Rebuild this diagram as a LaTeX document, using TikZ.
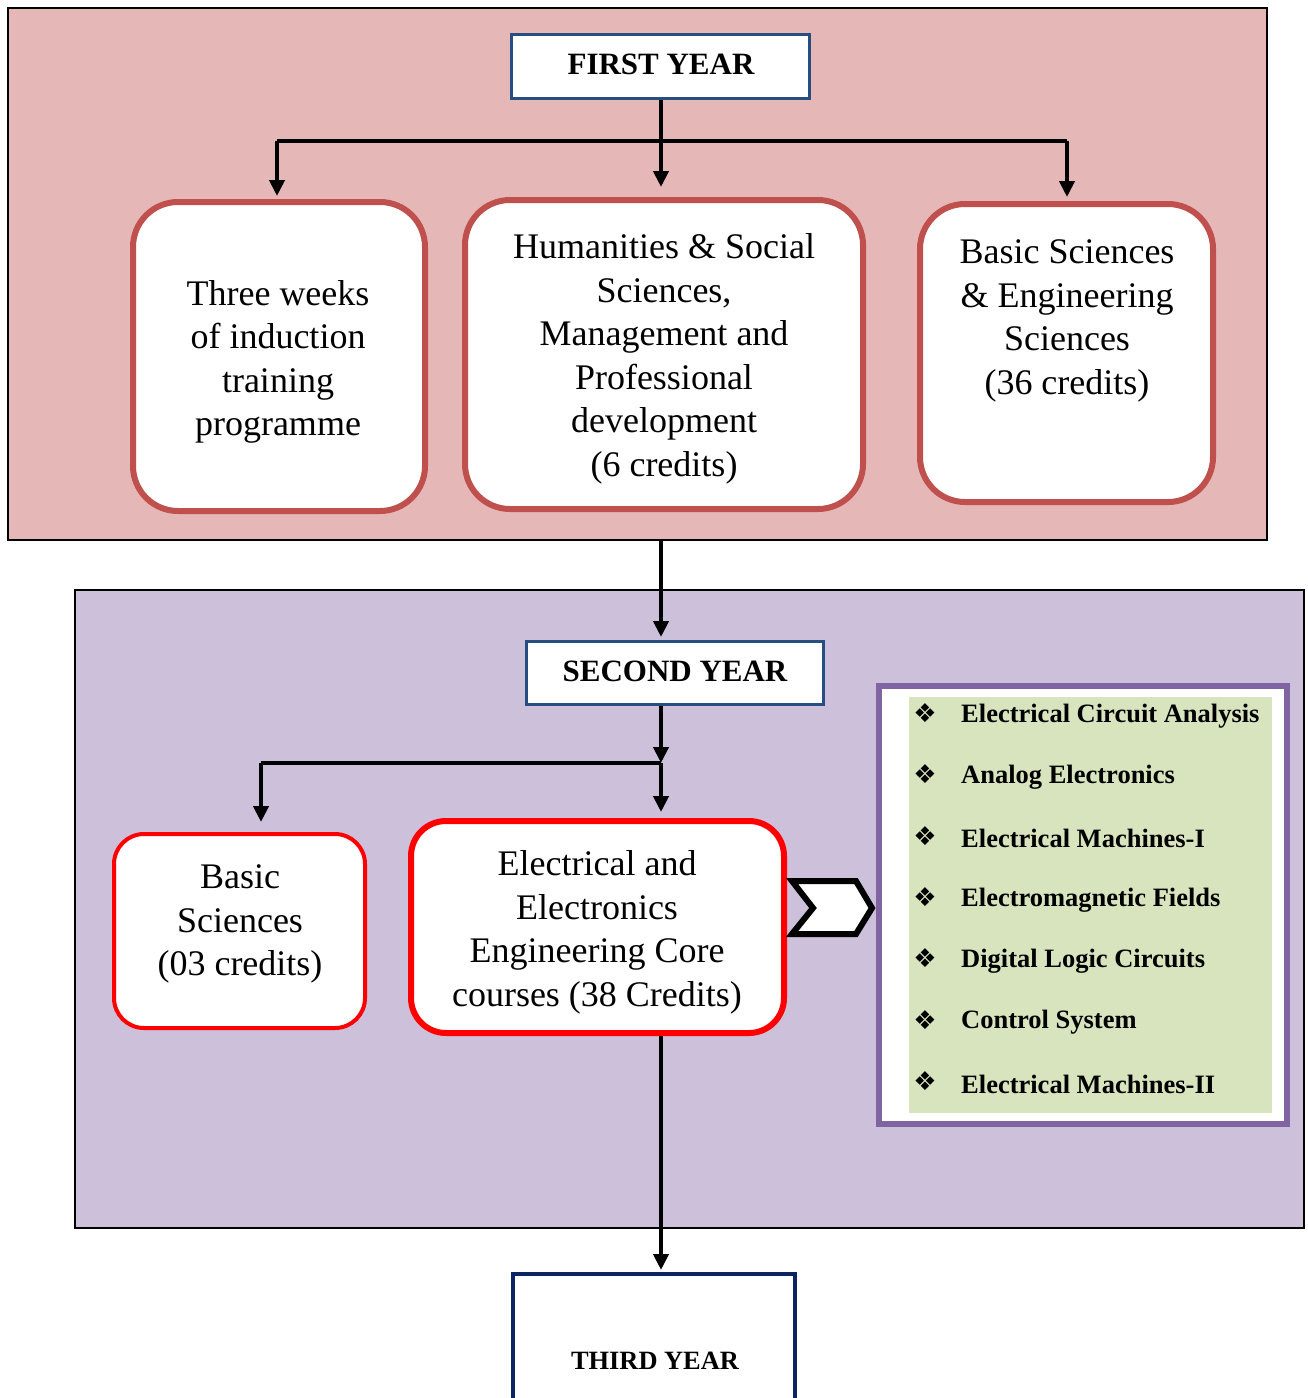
\documentclass[tikz,border=0pt]{standalone}
\usepackage{fontspec}
\setmainfont{Liberation Serif}
\newfontfamily\symfont{DejaVu Sans}
\usetikzlibrary{arrows.meta,calc}
\definecolor{pinkbg}{HTML}{E5B8B7}
\definecolor{purplebg}{HTML}{CCC0DA}
\definecolor{boxred}{HTML}{C0504D}
\definecolor{navy}{HTML}{264E80}
\definecolor{darknavy}{HTML}{0C2462}
\definecolor{framepurple}{HTML}{8064A2}
\definecolor{greenbg}{HTML}{D7E4BD}
\begin{document}
\begin{tikzpicture}[x=1pt,y=-1pt,
 panel/.style={draw=black,line width=2pt,inner sep=0pt},
 yearbox/.style={draw=navy,fill=white,line width=3pt,inner sep=0pt},
 yeartext/.style={inner sep=0pt,font=\fontsize{31}{36}\selectfont\bfseries},
 roundbox/.style={draw=boxred,fill=white,line width=6pt,rounded corners=45pt,inner sep=0pt},
 redbox/.style={draw=red,fill=white,rounded corners=35pt,inner sep=0pt},
 boxtext/.style={align=center,font=\fontsize{36}{43.5}\selectfont,inner sep=0pt},
 conn/.style={line width=4pt},
 arr/.style={line width=4pt,-{Triangle[length=16pt,width=15pt]}},
 item/.style={anchor=west,inner sep=0pt,font=\fontsize{26.5}{30}\selectfont\bfseries},
 bullet/.style={inner sep=0pt,font=\symfont\fontsize{26}{28}\selectfont},
]
\clip (0,0) rectangle (1308,1398);
\fill[white] (0,0) rectangle (1308,1398);

% panels
\node[panel,fill=pinkbg,minimum width=1259pt,minimum height=532pt] (p1) at (637.5,274) {};
\node[panel,fill=purplebg,minimum width=1229pt,minimum height=638pt] (p2) at (689.5,909) {};

% first year
\node[yearbox,minimum width=298pt,minimum height=64pt] (fy) at (660.5,66.5) {};
\node[yeartext] (fyt) at (661,64.5) {FIRST YEAR};
\node[roundbox,minimum width=292pt,minimum height=309pt] (b1) at (279,356.5) {};
\node[boxtext] (b1t) at (278,362) {Three weeks\\of induction\\training\\programme};
\node[roundbox,minimum width=398pt,minimum height=309pt] (b2) at (664,354.5) {};
\node[boxtext] (b2t) at (664,359) {Humanities \& Social\\Sciences,\\Management and\\Professional\\development\\(6 credits)};
\node[roundbox,minimum width=293pt,minimum height=298pt] (b3) at (1066.5,353) {};
\node[boxtext] (b3t) at (1067,321) {Basic Sciences\\\& Engineering\\Sciences\\(36 credits)};

\coordinate (j1) at (661,141);
\coordinate (l1) at (277,141);
\coordinate (r1) at (1067,141);
\draw[arr,shorten >=10pt] (fy.south -| j1) -- (j1 |- b2.north);
\draw[conn] (l1) -- (r1);
\draw[arr,shorten >=3pt] (l1) -- (l1 |- b1.north);
\draw[arr,shorten >=4pt] (r1) -- (r1 |- b3.north);

% second year
\node[yearbox,minimum width=297pt,minimum height=63pt] (sy) at (675,673) {};
\node[yeartext] (syt) at (675,671.5) {SECOND YEAR};
\draw[arr,shorten >=3pt] (p1.south -| j1) -- (j1 |- sy.north);

\node[redbox,line width=4pt,minimum width=251pt,minimum height=194pt,rounded corners=30pt] (bs) at (239.5,931) {};
\node[boxtext] (bst) at (240,924) {Basic\\Sciences\\(03 credits)};
\node[redbox,line width=6pt,minimum width=373pt,minimum height=212pt] (eee) at (597.5,927) {};
\node[boxtext] (eeet) at (597,932.5) {Electrical and\\Electronics\\Engineering Core\\courses (38 Credits)};

\coordinate (j2) at (661,763);
\coordinate (l2) at (261,763);
\draw[arr] (sy.south -| j2) -- (j2);
\draw[arr,shorten >=6pt] (j2) -- (j2 |- eee.north);
\draw[conn] (j2) -- (l2);
\draw[arr,shorten >=10pt] (l2) -- (l2 |- bs.north);

% chevron
\draw[line width=6pt,fill=white,line join=miter] (792,881) -- (856,881) -- (872,908) -- (856,934) -- (792,934) -- (813,908) -- cycle;

% list
\node[draw=framepurple,line width=6pt,fill=white,minimum width=408pt,minimum height=438pt,inner sep=0pt] (lf) at (1083,905) {};
\node[fill=greenbg,minimum width=363pt,minimum height=416pt,inner sep=0pt] (lg) at (1090.5,905) {};
\foreach \t [count=\i] in {Electrical Circuit Analysis,Analog Electronics,Electrical Machines-I,Electromagnetic Fields,Digital Logic Circuits,Control System,Electrical Machines-II}{
  \pgfmathsetmacro{\yy}{716+61.33*(\i-1)}
  \node[bullet] (bu\i) at (925,\yy-3) {❖};
  \node[item] (it\i) at (961,\yy) {\t};
}

% third year
\node[draw=darknavy,line width=4pt,fill=white,minimum width=282pt,minimum height=200pt,inner sep=0pt,anchor=north] (ty) at (654,1272) {};
\node[font=\fontsize{26.4}{30}\selectfont\bfseries,inner sep=0pt] (tyt) at (655,1361) {THIRD YEAR};
\draw[arr,shorten >=2pt] (eee.south -| j1) -- (j1 |- ty.north);
\end{tikzpicture}
\end{document}
